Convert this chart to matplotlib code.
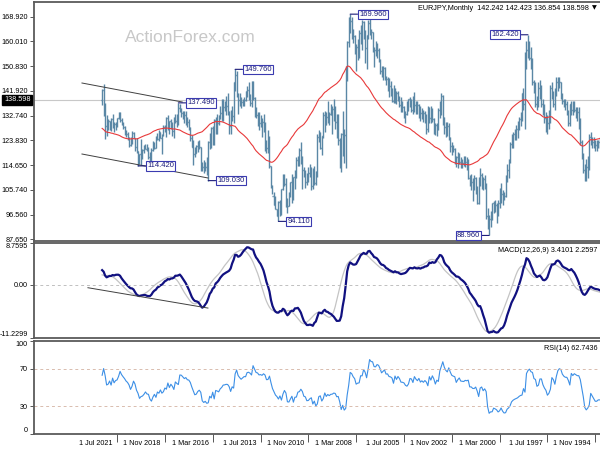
import numpy as np
import pandas as pd
import matplotlib
matplotlib.use('Agg')
import matplotlib.pyplot as plt
from matplotlib.collections import LineCollection
from matplotlib.transforms import ScaledTranslation, blended_transform_factory

plt.rcParams['font.family'] = ['Liberation Sans', 'DejaVu Sans']

# monthly EURJPY bars, first bar = Jan 1993 (index 22 = Nov 1994)
first_month = pd.Period('1993-01', 'M')
closes = [
    151, 139, 138, 135, 130, 124, 117, 117, 123, 121, 122, 125,  # 1993
    122, 119.6, 120, 119, 123, 121, 123, 123, 123, 122, 122, 123,  # 1994
    124, 125, 117, 114, 112, 113, 118, 123, 130, 134, 134, 135,  # 1995
    136, 135, 137, 130, 134, 137, 137, 138, 140, 145, 146, 145,  # 1996
    142, 137, 141, 143, 134, 130, 128, 132, 134, 137, 143, 143,  # 1997
    138, 137, 144, 145, 153, 154, 158, 157, 155, 137, 141, 132,  # 1998
    131.5, 130, 128, 127, 126, 124.7, 122.5, 116.5, 113, 110.6, 103.5, 102.8,  # 1999
    104, 106, 101, 98.7, 100, 100.6, 101, 95, 95, 92.5, 96, 107,  # 2000
    109.5, 107.6, 111, 110, 101, 106, 110, 108.5, 108.6, 110, 110, 116.5,  # 2001
    116, 116.4, 115.6, 115.8, 116, 118.5, 117.5, 116, 120.5, 121, 121.7, 124.5,  # 2002
    129, 127, 128.6, 132, 140, 137.5, 135, 128, 129.3, 126.4, 131.5, 135,  # 2003
    131.8, 135.7, 128, 132, 133.8, 132.3, 133.9, 132.9, 136.7, 135, 136.6, 139.2,  # 2004
    135, 138.5, 139, 135, 133.3, 134, 136, 136.5, 136.6, 139.4, 141.2, 139.6,  # 2005
    142.4, 138.2, 142.6, 143.7, 144, 146.4, 146.3, 150.4, 149.7, 149, 153.2, 157,  # 2006
    158, 157, 157.3, 163.3, 163.7, 166.7, 162.4, 157.7, 163.6, 167, 163, 163.1,  # 2007
    158.2, 158, 157.3, 162.1, 164, 167.3, 168.6, 159.6, 150, 125.8, 121.3, 126.1,  # 2008
    115.1, 124, 131, 130.4, 134.8, 135.3, 133.5, 133.3, 131.3, 132.5, 129.8, 133.2,  # 2009
    125.2, 121.1, 126.3, 125, 112.3, 108.1, 112.9, 107, 113.8, 112, 108.9, 108.5,  # 2010
    112.3, 112.9, 117.8, 120.2, 117.3, 116.7, 110.4, 110.3, 103.1, 108.4, 104.4, 99.6,  # 2011
    99.8, 107.9, 110.6, 105.9, 96.8, 101.1, 96.1, 98.6, 100.2, 103.5, 107.2, 114.4,  # 2012
    124.6, 120.9, 120.7, 128.3, 130.5, 129, 130.2, 129.9, 132.9, 133.6, 139.2, 145.3,  # 2013
    137.6, 140.5, 142.1, 141.8, 138.5, 138.7, 137.7, 136.7, 138.5, 140.7, 147.7, 145,  # 2014
    132.6, 134, 128.9, 134, 136.4, 136.6, 136.1, 135.9, 133.9, 132.7, 130.1, 130.7,  # 2015
    131.1, 123.3, 128.2, 121.9, 123.2, 114.7, 114, 115.4, 113.9, 115, 121.3, 123,  # 2016
    121.8, 119.3, 118.7, 121.5, 124.5, 128.4, 130.6, 130.9, 132.9, 132.3, 133.8, 135.3,  # 2017
    135.5, 130.1, 130.9, 132, 127.2, 129.4, 130.8, 128.7, 131.9, 127.7, 128.5, 125.8,  # 2018
    124.7, 126.7, 124.3, 125, 120.9, 122.6, 120.4, 116.8, 117.8, 120.5, 120.7, 121.8,  # 2019
    120.2, 119, 118.6, 117.4, 119.7, 121.2, 124.6, 126.4, 123.7, 121.9, 124.5, 126.1,  # 2020
    127, 128.6, 129.9, 131.4, 133.9, 131.8, 130.2, 129.9, 128.9, 131.7, 128.4, 130.9,  # 2021
    129.3, 128.9, 135.3, 142.242, 138.598,  # 2022
]
highs = [
    158, 152, 142, 140, 136, 131, 125, 120, 125, 125, 124, 126,
    127, 123, 122, 121, 124, 124, 124, 125, 124, 124, 124, 125,
    125, 127, 126, 118, 117, 115, 119, 124, 132, 136, 136, 136,
    138, 138, 138, 137, 135, 138, 139, 139, 141, 145, 147, 147,
    147, 143, 142, 145, 144, 135, 133, 134, 137, 139, 144, 146,
    145, 140, 145, 146, 154, 158, 160, 162.42, 160, 156, 143, 141,
    134, 132.5, 131, 129.5, 128, 127, 126, 123, 117, 115, 111, 105,
    105.5, 108, 106.5, 102, 101, 102, 101.5, 101, 98, 96.5, 99, 108,
    111, 110.5, 112, 113.5, 110.5, 107, 110.5, 111, 110, 111.5, 111, 117,
    117.5, 118, 118, 117, 117.5, 119, 119.5, 118, 121, 122, 123, 125,
    130, 130.5, 130.5, 132.5, 140.5, 141, 138, 135.5, 130, 130, 132, 135.5,
    136.5, 136, 136.5, 133.5, 134.5, 135, 135.5, 136.5, 137, 138, 138, 141.5,
    140, 139, 139.5, 139, 138, 134.5, 136.5, 138, 139.5, 140, 142, 142,
    143, 144, 143, 145.5, 146.5, 147, 147.5, 150.5, 151, 151, 153.5, 157.5,
    159.5, 160, 158, 163.5, 164.5, 168.5, 168, 162.5, 164, 167.5, 168, 166,
    164, 161, 159, 162.5, 164.5, 169, 169.96, 169, 160, 151, 128, 134.5,
    126.5, 124.5, 133.5, 133.5, 136.5, 139, 136.5, 137, 134, 138, 134, 134.5,
    134, 125.5, 127, 127.5, 126, 112.5, 114.5, 113.5, 114, 115, 114, 112,
    113, 114, 118, 123.3, 121, 118, 117.5, 113, 110.5, 111.5, 108.5, 105,
    102.5, 110, 111.5, 111.5, 106, 102, 101.5, 98.8, 103.5, 105, 107.5, 114.5,
    125.5, 127.5, 124, 130.5, 133.5, 132, 133, 134, 134, 136, 139.5, 145.5,
    145.5, 140.7, 145, 143.5, 142, 139.5, 139, 139.5, 141, 141, 149, 149.76,
    145, 136.5, 135, 134.5, 141, 140, 138, 139, 139, 136.5, 133, 133.5,
    132.5, 131.5, 129, 128.7, 126.5, 123.5, 117.5, 116, 116.5, 116, 121.5, 124,
    123.5, 122, 121.5, 124, 125.8, 128.8, 131.5, 132.5, 134.5, 134.5, 134.5, 135.5,
    137, 137.49, 133.5, 133.5, 132.5, 130.5, 131.5, 130.8, 133, 132.5, 129.5, 129.5,
    126, 127, 127.5, 126.5, 125.5, 123, 123.5, 121, 119.5, 121.5, 122.5, 122.5,
    122, 120.5, 124.3, 118.7, 120, 124.5, 124.8, 126.8, 127.1, 125, 125, 126.8,
    127.5, 129, 130.5, 132, 134, 134.1, 132, 130.5, 130.5, 133.5, 132, 131,
    131.5, 133.2, 137.5, 144.3, 142.423,
]
lows = [
    148, 138, 133, 132, 127, 123, 114, 114, 116, 118, 119, 120,
    119, 117, 117, 117, 118, 119, 119, 121, 121, 120, 120, 121,
    121, 122, 113, 110, 109, 109, 112, 117, 122, 128, 131, 132,
    134, 133, 133, 129, 129, 133, 135, 136, 137, 139, 143, 142,
    140, 135, 136, 139, 130, 128, 126, 127, 130, 133, 136, 139,
    136, 135, 136, 141, 144, 150, 153, 154, 150, 128, 135, 131,
    129, 127.5, 124.5, 124, 124, 121, 121, 115.5, 110, 108.5, 103, 102,
    100, 101, 99, 96, 93.5, 97.5, 97, 94.5, 92, 88.96, 91.5, 95,
    106, 105.5, 106, 107, 100.5, 100.5, 104, 105.5, 101.5, 105.5, 107, 109.5,
    113, 114, 114.5, 113.5, 113.5, 115, 113.5, 114, 115, 119.5, 118.5, 119.5,
    124, 125.5, 125, 126, 129.5, 133, 132, 127.5, 125.5, 125.7, 126, 130.5,
    130, 130, 126.9, 126, 130, 130.5, 131.5, 131, 132, 133.5, 133.5, 134,
    133.5, 134, 136, 134.5, 133, 130, 132, 134, 134, 136, 138, 137,
    137.5, 137.5, 137.7, 140, 139.5, 142, 144, 146, 146, 147, 148, 152.5,
    154, 154.5, 150.5, 156, 161, 162.5, 161, 150, 152, 161, 157, 159,
    154, 153, 149, 155.5, 159.5, 161, 163, 158, 145.5, 113.6, 115.4, 118,
    112.1, 113.5, 122, 124.5, 128, 131, 126, 133, 129.5, 130, 129.5, 127,
    124.5, 118.5, 120.5, 123, 110.5, 107.5, 107.5, 106, 105.5, 110.5, 108.5, 107.5,
    106.5, 110.5, 106, 115, 114.5, 114.5, 110, 106, 102, 100.8, 103, 99.6,
    97, 99.5, 107, 105.5, 96.5, 96, 94.11, 96, 98.5, 100, 104, 106.5,
    113.5, 119, 119, 120, 127, 125, 128.5, 127.5, 129, 132, 132.5, 138.5,
    136, 136.5, 138.5, 139.5, 138, 136.5, 136.5, 135.5, 136.5, 133.5, 139.5, 142,
    130.2, 131, 126.1, 126, 133, 133, 134.5, 131, 131, 131.5, 129.5, 126,
    126, 122, 122, 121, 120.5, 109.03, 111, 112.5, 112, 112.5, 112.5, 120.5,
    119.5, 119, 117.5, 114.8, 121.5, 123.5, 127.5, 128.5, 129.5, 130, 131.5, 132.5,
    134, 129.5, 128.5, 130, 124.6, 125.5, 128, 126, 127.5, 125, 127, 125.5,
    118.7, 124.5, 123.5, 124, 120.8, 120.5, 120, 115.9, 116, 117, 120, 120.5,
    119, 117, 114.8, 115, 114.42, 119.2, 119.7, 124.5, 122.5, 121.6, 121.5, 124,
    125.1, 125.9, 128, 129.5, 130.5, 131.5, 128.5, 127.5, 127, 128.3, 127.3, 127.5,
    127.4, 125.4, 124.4, 132.6, 136.854,
]

header = 'EURJPY,Monthly  142.242 142.423 136.854 138.598'
macd_text = 'MACD(12,26,9) 3.4101 2.2597'
rsi_text = 'RSI(14) 62.7436'
last_price = 138.598

price_ticks = [168.920, 160.010, 150.830, 141.920, 132.740, 123.830, 114.650, 105.740, 96.560, 87.650]
macd_ticks = [8.7595, 0.0, -11.2299]
macd_tick_labels = ['8.7595', '0.00', '-11.2299']
rsi_ticks = [100, 70, 30, 0]
date_ticks = ['1994-11', '1997-07', '2000-03', '2002-11', '2005-07', '2008-03',
              '2010-11', '2013-07', '2016-03', '2018-11', '2021-07']

# labelled highs / lows
ext_labels = ['169.960', '162.420', '149.760', '137.490', '114.420', '109.030', '94.110', '88.960']
ext_months = ['2008-07', '1998-08', '2014-12', '2018-02', '2020-05', '2016-06', '2012-07', '2000-10']
ext_is_high = [True, True, True, True, False, False, False, False]
ext_side = ['right', 'left', 'right', 'right', 'right', 'right', 'right', 'left']

# drawn trendlines (months since Nov 1994, value)
channel_upper = [(343.5, 144.76), (276.4, 137.81)]
channel_lower = [(343.5, 118.77), (259.2, 110.0)]
macd_trend = [(339.5, -0.65), (259.2, -4.93)]

# ---------------------------------------------------------------------------
n = len(closes)
x = np.arange(n) - 22  # months since Nov 1994
c = pd.Series(closes, dtype=float)
h = np.array(highs, dtype=float)
lo = np.array(lows, dtype=float)
o = c.shift(1).fillna(c.iloc[0]).values


def month_x(s):
    return (pd.Period(s, 'M') - first_month).n - 22


ema50 = c.ewm(span=50, adjust=True).mean()
macd = c.ewm(span=12, adjust=True).mean() - c.ewm(span=26, adjust=True).mean()
signal = macd.rolling(9, min_periods=1).mean()
delta = c.diff().fillna(0)
gain = delta.clip(lower=0).ewm(alpha=1 / 14, adjust=True).mean()
loss = (-delta.clip(upper=0)).ewm(alpha=1 / 14, adjust=True).mean()
rsi = 100 * gain / (gain + loss).replace(0, np.nan)

fig = plt.figure(figsize=(6, 4.5), dpi=100)


def px_axes(top, bottom):
    return fig.add_axes([34 / 600, 1 - bottom / 450, 566 / 600, (bottom - top) / 450])


ax = px_axes(2, 241)
axm = px_axes(243, 338)
axr = px_axes(341, 434)

for a in (ax, axm, axr):
    a.set_xlim(375.6, -3.2)
    for s in ('top', 'left', 'bottom'):
        a.spines[s].set_color('#5a5a5a')
        a.spines[s].set_linewidth(1.3)
    a.spines['right'].set_visible(False)
    a.tick_params(axis='y', length=3, width=0.7, color='#555555', labelsize=5.2, pad=1.5)
    a.tick_params(axis='x', bottom=False, labelbottom=False)

# price bars
segs = []
for xi, oi, hi, li, ci in zip(x, o, h, lo, c.values):
    segs.append([(xi, li), (xi, hi)])
    segs.append([(xi - 0.55, oi), (xi, oi)])
    segs.append([(xi, ci), (xi + 0.55, ci)])
ax.add_collection(LineCollection(segs, colors='#5a87a5', linewidths=1.0))
ax.plot(x, ema50, color='#e8393a', lw=0.8)
ax.axhline(last_price, color='#c8c8c8', lw=0.8, zorder=0)
ax.set_ylim(86.93, 174.41)
ax.set_yticks(price_ticks)
ax.set_yticklabels([f'{v:.3f}' for v in price_ticks])

for line in (channel_upper, channel_lower):
    ax.plot([p[0] for p in line], [p[1] for p in line], color='#404040', lw=0.7)

tr = blended_transform_factory(ax.transAxes, ax.transData)
ax.text(-0.006, last_price, f'{last_price:.3f}', transform=tr, ha='right', va='center',
        fontsize=5.2, color='white',
        bbox=dict(boxstyle='square,pad=0.25', fc='black', ec='black'))

for lab, mon, is_high, side in zip(ext_labels, ext_months, ext_is_high, ext_side):
    i = month_x(mon) + 22
    yv = h[i] if is_high else lo[i]
    dx = 9 if side == 'right' else -9
    ax.annotate(lab, xy=(x[i], yv), xytext=(dx, 0), textcoords='offset pixels',
                ha='left' if side == 'right' else 'right', va='center',
                fontsize=5.5, color='#1c1c7a',
                bbox=dict(boxstyle='square,pad=0.15', fc='white', ec='#3b3bb0', lw=0.8),
                arrowprops=dict(arrowstyle='-', color='#1c1c7a', lw=0.8, shrinkA=0, shrinkB=0))

fig.text(190 / 600, 1 - 37 / 450, 'ActionForex.com', color='#c8c8c8', fontsize=12.5,
         ha='center', va='center')
fig.text(589 / 600, 1 - 8 / 450, header, ha='right', va='center', fontsize=5.2)
fig.text(597 / 600, 1 - 8 / 450, '▼', ha='right', va='center', fontsize=4.5,
         family=['DejaVu Sans'])

# MACD panel
axm.plot(x, signal, color='#c4c4c4', lw=0.9)
axm.plot(x, macd, color='#111180', lw=1.6)
axm.axhline(0, color='#c0c0c0', lw=0.7, ls=(0, (3, 3)))
axm.plot([p[0] for p in macd_trend], [p[1] for p in macd_trend], color='#404040', lw=0.7)
axm.set_ylim(-11.2299, 8.7595)
axm.set_yticks(macd_ticks)
axm.set_yticklabels(macd_tick_labels)
labs = axm.get_yticklabels()
labs[0].set_va('top')
labs[-1].set_va('bottom')
axm.text(0.995, 0.96, macd_text, transform=axm.transAxes, ha='right', va='top', fontsize=5.2)

# RSI panel
axr.plot(x, rsi, color='#3c8fe6', lw=0.8)
for lvl in (70, 30):
    axr.axhline(lvl, color='#d9bcae', lw=0.7, ls=(0, (3, 3)))
axr.set_ylim(0, 100)
axr.set_yticks(rsi_ticks)
axr.set_yticklabels([str(v) for v in rsi_ticks])
labs = axr.get_yticklabels()
labs[0].set_va('top')
labs[-1].set_va('bottom')
axr.text(0.995, 0.96, rsi_text, transform=axr.transAxes, ha='right', va='top', fontsize=5.2)

axr.tick_params(axis='x', bottom=True, labelbottom=True, length=6, width=0.7,
                color='#555555', labelsize=5.2, pad=-4)
axr.set_xticks([month_x(d) for d in date_ticks])
axr.set_xticklabels([pd.Period(d, 'M').strftime('1 %b %Y') for d in date_ticks])
shift = ScaledTranslation(-3 / 72, -2 / 72, fig.dpi_scale_trans)
for lab in axr.get_xticklabels():
    lab.set_ha('right')
    lab.set_transform(lab.get_transform() + shift)

fig.savefig('out.png', dpi=100)
